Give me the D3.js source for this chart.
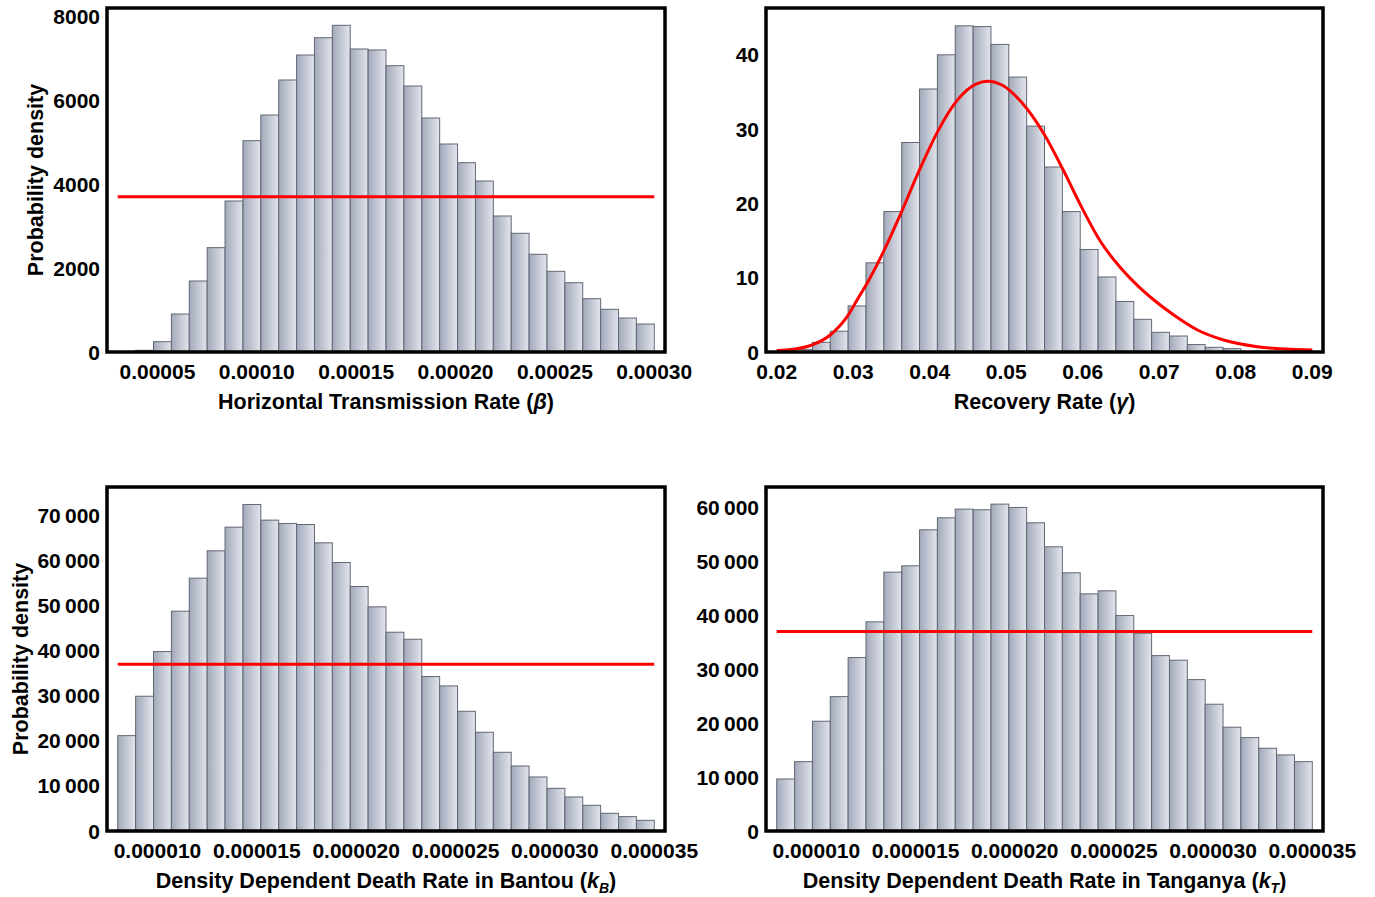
<!DOCTYPE html>
<html>
<head>
<meta charset="utf-8">
<script src="https://cdnjs.cloudflare.com/ajax/libs/d3/7.8.5/d3.min.js"></script>
<style>
  html, body { margin: 0; padding: 0; background: #fff; }
  svg { display: block; }
  text { font-family: "Liberation Sans", Arial, Helvetica, sans-serif; font-weight: bold; fill: #000; }
</style>
</head>
<body>
<svg id="chart" width="1375" height="897"></svg>
<script>
// ---- Posterior histograms: 30 equal bins over each prior range ----

// Horizontal transmission rate (beta)
const betaRange = [0.00003, 0.0003];
const betaDensity = [0, 40, 246, 907, 1695, 2490, 3604, 5043, 5656, 6492,
  7088, 7501, 7797, 7232, 7208, 6833, 6348, 5585, 4964, 4518,
  4081, 3246, 2833, 2332, 1926, 1654, 1272, 1019, 811, 668];
const betaPrior = 3704;
const betaXTicks = [0.00005, 0.00010, 0.00015, 0.00020, 0.00025, 0.00030];
const betaYTicks = [0, 2000, 4000, 6000, 8000];
const betaYMax = 8210;

// Recovery rate (gamma)
const gammaRange = [0.02, 0.09];
const gammaDensity = [0, 0.36, 1.3, 2.8, 6.2, 12.0, 18.9, 28.2, 35.4, 40.0,
  43.9, 43.8, 41.4, 37.0, 30.4, 24.9, 18.9, 13.8, 10.1, 6.8,
  4.4, 2.65, 2.15, 1.0, 0.63, 0.45, 0, 0, 0, 0];
// prior density curve for gamma: sampled x positions and densities
const gammaPriorX = [0.0200, 0.0222, 0.0246, 0.0270, 0.0292, 0.0305, 0.0320, 0.0340,
  0.0362, 0.0387, 0.0411, 0.0436, 0.0461, 0.0476, 0.0495, 0.0520, 0.0549, 0.0574,
  0.0599, 0.0623, 0.0648, 0.0672, 0.0693, 0.0719, 0.0750, 0.0784, 0.0828, 0.0872, 0.0900];
const gammaPriorY = [0.2, 0.36, 0.94, 2.29, 4.75, 7.0, 9.6, 13.6,
  18.6, 24.6, 29.8, 33.9, 36.1, 36.45, 35.9, 33.6, 29.4, 24.6,
  19.4, 14.9, 11.5, 8.9, 7.0, 4.98, 2.96, 1.62, 0.72, 0.36, 0.27];
const gammaXTicks = [0.02, 0.03, 0.04, 0.05, 0.06, 0.07, 0.08, 0.09];
const gammaYTicks = [0, 10, 20, 30, 40];
const gammaYMax = 46.3;

// Density dependent death rate in Bantou (kB)
const kbRange = [0.000008, 0.000035];
const kbDensity = [21180, 29930, 39850, 48820, 56150, 62220, 67480, 72520, 69040, 68300,
  68070, 64000, 59630, 54300, 49780, 44150, 42590, 34300, 32220, 26590,
  21930, 17480, 14440, 12000, 9480, 7560, 5700, 3930, 3190, 2370];
const kbPrior = 37037;
const kbXTicks = [0.000010, 0.000015, 0.000020, 0.000025, 0.000030, 0.000035];
const kbYTicks = [0, 10000, 20000, 30000, 40000, 50000, 60000, 70000];
const kbYMax = 76400;

// Density dependent death rate in Tanganya (kT)
const ktRange = [0.000008, 0.000035];
const ktDensity = [9665, 12880, 20390, 24960, 32220, 38850, 48080, 49260, 55950, 58180,
  59790, 59670, 60720, 60100, 57250, 52790, 47960, 44050, 44610, 40020,
  36740, 32580, 31730, 28120, 23550, 19280, 17340, 15370, 14130, 12880];
const ktPrior = 37037;
const ktXTicks = [0.000010, 0.000015, 0.000020, 0.000025, 0.000030, 0.000035];
const ktYTicks = [0, 10000, 20000, 30000, 40000, 50000, 60000];
const ktYMax = 63900;

const svg = d3.select("#chart");

// bar gradient (darker left edge, lighter right side)
const defs = svg.append("defs");
const grad = defs.append("linearGradient").attr("id", "barFill")
  .attr("x1", "0").attr("x2", "1").attr("y1", "0").attr("y2", "0");
grad.append("stop").attr("offset", "0%").attr("stop-color", "#a2a9ba");
grad.append("stop").attr("offset", "100%").attr("stop-color", "#e2e5ec");

const groupFmt = d3.format(",");
const fmtGrouped = v => groupFmt(v).replace(/,/g, "\u2009");

function panel(opts) {
  const { left, right, top, bottom, range, density, xTicks, yTicks, yMax,
          xFmt, yFmt, xTitle, yTitle, yTitleX, priorLevel, priorCurve } = opts;
  const pad = (range[1] - range[0]) * 0.02;
  const x = d3.scaleLinear().domain([range[0] - pad, range[1] + pad]).range([left, right]);
  const y = d3.scaleLinear().domain([0, yMax]).range([bottom, top]);
  const g = svg.append("g");

  const n = density.length;
  const w = (range[1] - range[0]) / n;
  const bins = density.map((d, i) => ({ x0: range[0] + i * w, x1: range[0] + (i + 1) * w, d }))
    .filter(b => b.d > 0);

  g.append("g").selectAll("rect").data(bins).join("rect")
    .attr("x", b => x(b.x0))
    .attr("width", b => x(b.x1) - x(b.x0))
    .attr("y", b => y(b.d))
    .attr("height", b => y(0) - y(b.d))
    .attr("fill", "url(#barFill)")
    .attr("stroke", "#626775")
    .attr("stroke-width", 1);

  if (priorLevel !== undefined) {
    g.append("line")
      .attr("x1", x(range[0])).attr("x2", x(range[1]))
      .attr("y1", y(priorLevel)).attr("y2", y(priorLevel))
      .attr("stroke", "#ff0000").attr("stroke-width", 3);
  }
  if (priorCurve) {
    const line = d3.line().x(d => x(d[0])).y(d => y(d[1])).curve(d3.curveMonotoneX);
    g.append("path").datum(priorCurve)
      .attr("d", line).attr("fill", "none")
      .attr("stroke", "#ff0000").attr("stroke-width", 3);
  }

  // frame
  g.append("rect")
    .attr("x", left).attr("y", top)
    .attr("width", right - left).attr("height", bottom - top)
    .attr("fill", "none").attr("stroke", "#000").attr("stroke-width", 3.5);

  // x tick labels
  g.append("g").selectAll("text").data(xTicks).join("text")
    .attr("x", d => x(d)).attr("y", bottom + 27)
    .attr("text-anchor", "middle")
    .style("font-size", "21px")
    .text(xFmt);

  // y tick labels
  g.append("g").selectAll("text").data(yTicks).join("text")
    .attr("x", left - 7).attr("y", d => y(d) + 7.5)
    .attr("text-anchor", "end")
    .style("font-size", "21px")
    .text(yFmt);

  // x title
  const xt = g.append("text")
    .attr("x", (left + right) / 2).attr("y", bottom + 57)
    .attr("text-anchor", "middle")
    .style("font-size", "21.5px");
  xTitle(xt);

  if (yTitle) {
    g.append("text")
      .attr("transform", `translate(${yTitleX},${(top + bottom) / 2}) rotate(-90)`)
      .attr("text-anchor", "middle")
      .style("font-size", "21.5px")
      .text(yTitle);
  }
}

panel({
  left: 107, right: 665, top: 8, bottom: 352,
  range: betaRange, density: betaDensity, xTicks: betaXTicks, yTicks: betaYTicks, yMax: betaYMax,
  xFmt: d3.format(".5f"), yFmt: d3.format("d"),
  xTitle: t => { t.append("tspan").text("Horizontal Transmission Rate ("); t.append("tspan").style("font-style", "italic").text("\u03B2"); t.append("tspan").text(")"); },
  yTitle: "Probability density", yTitleX: 43, priorLevel: betaPrior
});

panel({
  left: 766, right: 1323, top: 8, bottom: 352,
  range: gammaRange, density: gammaDensity, xTicks: gammaXTicks, yTicks: gammaYTicks, yMax: gammaYMax,
  xFmt: d3.format(".2f"), yFmt: d3.format("d"),
  xTitle: t => { t.append("tspan").text("Recovery Rate ("); t.append("tspan").style("font-style", "italic").text("\u03B3"); t.append("tspan").text(")"); },
  priorCurve: gammaPriorX.map((v, i) => [v, gammaPriorY[i]])
});

panel({
  left: 107, right: 665, top: 487, bottom: 831,
  range: kbRange, density: kbDensity, xTicks: kbXTicks, yTicks: kbYTicks, yMax: kbYMax,
  xFmt: d3.format(".6f"), yFmt: fmtGrouped,
  xTitle: t => { t.append("tspan").text("Density Dependent Death Rate in Bantou ("); t.append("tspan").style("font-style", "italic").text("k"); t.append("tspan").style("font-style", "italic").style("font-size", "14px").attr("dy", 5).text("B"); t.append("tspan").attr("dy", -5).text(")"); },
  yTitle: "Probability density", yTitleX: 28, priorLevel: kbPrior
});

panel({
  left: 766, right: 1323, top: 487, bottom: 831,
  range: ktRange, density: ktDensity, xTicks: ktXTicks, yTicks: ktYTicks, yMax: ktYMax,
  xFmt: d3.format(".6f"), yFmt: fmtGrouped,
  xTitle: t => { t.append("tspan").text("Density Dependent Death Rate in Tanganya ("); t.append("tspan").style("font-style", "italic").text("k"); t.append("tspan").style("font-style", "italic").style("font-size", "14px").attr("dy", 5).text("T"); t.append("tspan").attr("dy", -5).text(")"); },
  priorLevel: ktPrior
});
</script>
</body>
</html>
